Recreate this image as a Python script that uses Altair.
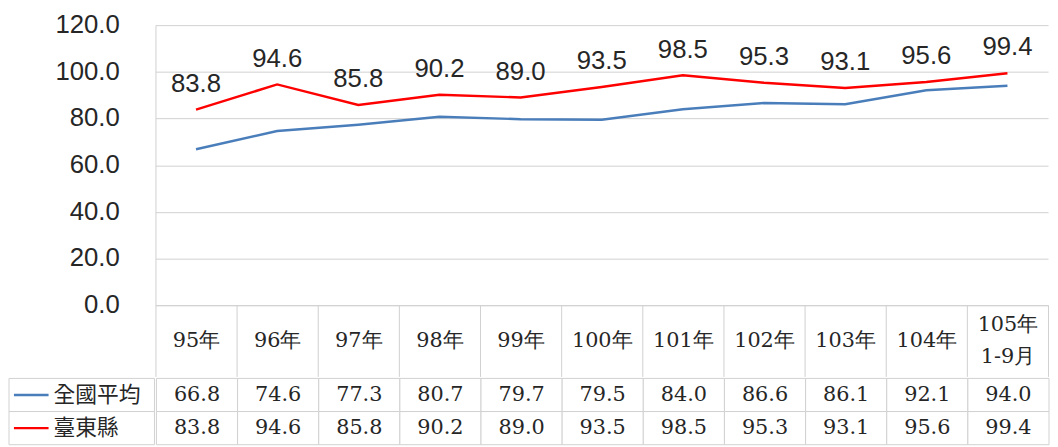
import altair as alt
import pandas as pd

categories = ["95年", "96年", "97年", "98年", "99年", "100年", "101年", "102年", "103年", "104年", "105年 1-9月"]
national = [66.8, 74.6, 77.3, 80.7, 79.7, 79.5, 84.0, 86.6, 86.1, 92.1, 94.0]
taitung = [83.8, 94.6, 85.8, 90.2, 89.0, 93.5, 98.5, 95.3, 93.1, 95.6, 99.4]
series = ["全國平均", "臺東縣"]
y_ticks = [0, 20, 40, 60, 80, 100, 120]

rows = []
for name, vals in zip(series, [national, taitung]):
    for c, v in zip(categories, vals):
        rows.append({"cat": c, "series": name, "value": v})
df = pd.DataFrame(rows)
legend_df = pd.DataFrame({"series": series})
ticks_df = pd.DataFrame({"value": y_ticks})

W = 902
LEFT = 147
H = 283
GRID = "#D0D0D0"
SERIF = "DejaVu Serif"
SANS = "Liberation Sans"
TXT = "#262626"

color = alt.Color("series:N", scale=alt.Scale(domain=series, range=["#4A7EBB", "#FF0000"]), legend=None)
xband = alt.Scale(domain=categories, paddingInner=0, paddingOuter=0)
yscale = alt.Scale(domain=[0, 120], nice=False)

# y-axis tick labels column (left of the plot)
ylabels = alt.Chart(ticks_df).mark_text(
    align="right", baseline="middle", fontSize=26, font=SANS, color=TXT
).encode(
    x=alt.value(LEFT - 35),
    y=alt.Y("value:Q", scale=yscale, axis=None),
    text=alt.Text("value:Q", format=".1f"),
).properties(width=LEFT, height=H)

base = alt.Chart(df).encode(
    x=alt.X("cat:N", sort=categories, scale=xband, title=None,
            axis=alt.Axis(labelAngle=0, domainColor=GRID, tickColor=GRID, tickBand="extent",
                          tickSize=72, tickWidth=1,
                          labelPadding={"condition": {"test": "indexof(datum.label, ' ') >= 0", "value": -52},
                                        "value": -36},
                          labelBaseline="middle",
                          labelFont=SERIF, labelFontSize=21, labelLineHeight=32, labelColor=TXT,
                          labelExpr="split(datum.label, ' ')", labelOverlap=False, labelFlush=False)),
    y=alt.Y("value:Q", scale=yscale, title=None,
            axis=alt.Axis(values=y_ticks, labels=False, ticks=False, domainColor=GRID,
                          gridColor=GRID, minExtent=0, maxExtent=0)),
)

lines = base.mark_line(strokeWidth=2.5).encode(
    color=color, detail="series:N",
    strokeWidth=alt.StrokeWidth("series:N", scale=alt.Scale(domain=series, range=[2.2, 2.8]), legend=None))
labels = base.transform_filter(alt.datum.series == series[1]).mark_text(
    dy=-26, fontSize=26, font=SANS, color=TXT, baseline="middle"
).encode(text=alt.Text("value:Q", format=".1f"))

plot = alt.layer(lines, labels).properties(width=W, height=H)

row_y = alt.Y("series:N", sort=series, scale=alt.Scale(domain=series, paddingInner=0, paddingOuter=0), axis=None)

legend_cells = alt.Chart(legend_df).mark_rect(fill="white", stroke=GRID, strokeWidth=1).encode(y=row_y)
legend_lines = alt.Chart(legend_df).mark_rule(strokeWidth=2.5).encode(
    x=alt.value(5), x2=alt.value(40), y=row_y, color=color)
legend_text = alt.Chart(legend_df).mark_text(align="left", baseline="middle", font="Noto Sans CJK TC",
                                             fontSize=22, color=TXT).encode(
    x=alt.value(45), y=row_y, text="series:N")
legend = alt.layer(legend_cells, legend_lines, legend_text).properties(width=LEFT, height=67)

tx = alt.X("cat:N", sort=categories, scale=xband, axis=None)
cells = alt.Chart(df).mark_rect(fill="white", stroke=GRID, strokeWidth=1).encode(x=tx, y=row_y)
cell_text = alt.Chart(df).mark_text(font=SERIF, fontSize=21, color=TXT, baseline="middle").encode(
    x=tx, y=row_y, text=alt.Text("value:Q", format=".1f"))
table = alt.layer(cells, cell_text).properties(width=W, height=67)

top = alt.hconcat(ylabels, plot, spacing=0).resolve_scale(y="independent", x="independent")
bottom = alt.hconcat(legend, table, spacing=0).resolve_scale(y="independent", x="independent")

chart = alt.vconcat(top, bottom, spacing=0).resolve_scale(
    x="independent", y="independent"
).properties(
    padding={"left": 0, "top": 2, "right": 0, "bottom": 0}
).configure_view(strokeWidth=0).configure_concat(spacing=0)

chart.save("out.html", embed_options={"renderer": "svg", "actions": False})
